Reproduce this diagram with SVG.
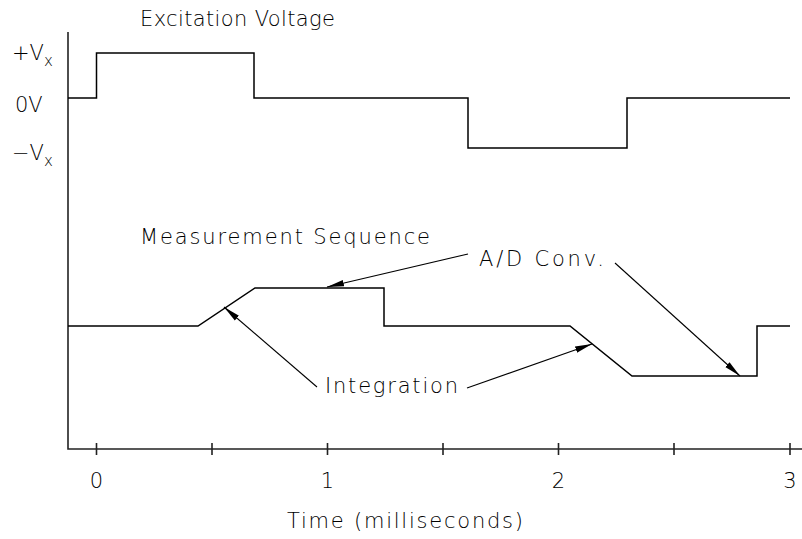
<svg xmlns="http://www.w3.org/2000/svg" width="802" height="539" viewBox="0 0 802 539">
<style>
  .t { font-family: "DejaVu Sans", "Liberation Sans", sans-serif; font-weight: 200; font-size: 21px; fill: #000; }
  .sub { font-size: 15px; }
  .sig { fill: none; stroke: #000; stroke-width: 1.5; }
  .ax { fill: none; stroke: #222; stroke-width: 1.6; }
  .lead { fill: none; stroke: #000; stroke-width: 1.1; }
</style>
<defs>
  <marker id="ah" markerUnits="userSpaceOnUse" markerWidth="17" markerHeight="8" viewBox="0 0 17 8" refX="17" refY="4" orient="auto">
    <path d="M0,0.8 L17,4 L0,7.2 Z" fill="#000"/>
  </marker>
</defs>
<rect width="802" height="539" fill="#fff"/>

<g id="axes">
  <path class="ax" d="M68,32 V449 H802"/>
  <path class="ax" d="M96.5,443 V455 M212,443 V455 M327.5,443 V455 M443,443 V455 M558.5,443 V455 M674,443 V455 M790,443 V455"/>
</g>

<g id="tick-labels">
  <text class="t" x="96.5" y="488" text-anchor="middle">0</text>
  <text class="t" x="327.5" y="488" text-anchor="middle">1</text>
  <text class="t" x="558.5" y="488" text-anchor="middle">2</text>
  <text class="t" x="790" y="488" text-anchor="middle">3</text>
  <text class="t" x="405" y="528" text-anchor="middle" textLength="236" lengthAdjust="spacing">Time (milliseconds)</text>
</g>

<g id="y-labels">
  <text class="t" x="12" y="60">+V<tspan class="sub" dy="6">x</tspan></text>
  <text class="t" x="15" y="112">0V</text>
  <text class="t" x="12" y="160">−V<tspan class="sub" dy="6">x</tspan></text>
</g>

<g id="excitation">
  <text class="t" x="140" y="26" textLength="195" lengthAdjust="spacing">Excitation Voltage</text>
  <path class="sig" d="M68,98 H96.5 V53 H254 V98 H468 V148 H627 V98 H790"/>
</g>

<g id="measurement">
  <text class="t" x="140" y="244" textLength="290" lengthAdjust="spacing">Measurement Sequence</text>
  <path class="sig" d="M68,326 H198 L255,288 H384 V326 H570 L632,376 H757 V326 H790"/>
</g>

<g id="label-ad">
  <text class="t" x="479" y="266" textLength="125" lengthAdjust="spacing">A/D Conv.</text>
</g>
<g id="label-integration">
  <text class="t" x="325" y="393" textLength="133" lengthAdjust="spacing">Integration</text>
</g>

<g id="connectors">
  <line class="lead" x1="468" y1="254" x2="327" y2="287" marker-end="url(#ah)"/>
  <line class="lead" x1="615" y1="263" x2="740" y2="376" marker-end="url(#ah)"/>
  <line class="lead" x1="317" y1="387" x2="224" y2="307" marker-end="url(#ah)"/>
  <line class="lead" x1="467" y1="388" x2="592" y2="344" marker-end="url(#ah)"/>
</g>
</svg>
